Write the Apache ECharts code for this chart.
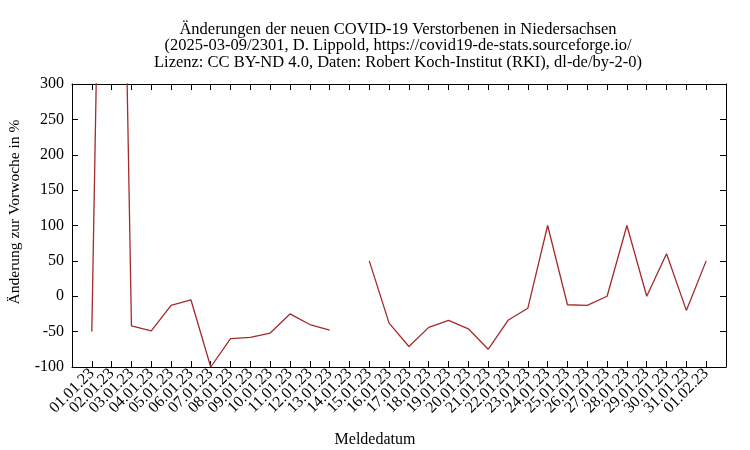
<!DOCTYPE html>
<html>
<head>
<meta charset="utf-8">
<script src="https://cdn.jsdelivr.net/npm/echarts@6/dist/echarts.min.js"></script>
<style>
html, body { margin: 0; padding: 0; background: #fff; }
#chart { width: 750px; height: 450px; }
</style>
</head>
<body>
<div id="chart"></div>
<script>
// Meldedatum (x) und Aenderung zur Vorwoche in % (y)
var dates = ['01.01.23','02.01.23','03.01.23','04.01.23','05.01.23','06.01.23','07.01.23','08.01.23',
    '09.01.23','10.01.23','11.01.23','12.01.23','13.01.23','14.01.23','15.01.23','16.01.23',
    '17.01.23','18.01.23','19.01.23','20.01.23','21.01.23','22.01.23','23.01.23','24.01.23',
    '25.01.23','26.01.23','27.01.23','28.01.23','29.01.23','30.01.23','31.01.23','01.02.23'];
var values = [-50, 1533, -42, -49, -13, -5, -100, -60,
    -58, -52, -25, -40, -48, null, 50, -38,
    -71, -44, -34, -46, -75, -34, -17, 100,
    -12, -13, 0, 100, 0, 60, -20, 50];
var yTicks = [-100, 300, 50]; // min, max, interval

var titleLines = [
    'Änderungen der neuen COVID-19 Verstorbenen in Niedersachsen',
    '(2025-03-09/2301, D. Lippold, https://covid19-de-stats.sourceforge.io/',
    'Lizenz: CC BY-ND 4.0, Daten: Robert Koch-Institut (RKI), dl-de/by-2-0)'
];

var font = 'Liberation Serif';
var chart = echarts.init(document.getElementById('chart'));

var seriesData = values.map(function (v, i) { return [i, v == null ? '-' : v]; });

function xAxis(pos, showLabel) {
    return {
        type: 'value', position: pos, min: -1, max: dates.length, interval: 1,
        axisLine: { show: true, onZero: false, lineStyle: { color: '#000', width: 1 } },
        axisTick: { show: true, inside: true, length: 6, lineStyle: { color: '#000' } },
        splitLine: { show: false },
        axisLabel: {
            show: showLabel, rotate: 45, margin: 4, fontFamily: font, fontSize: 16, color: '#000',
            formatter: function (v) { return dates[v] || ''; }
        }
    };
}

function yAxis(pos, showLabel) {
    return {
        type: 'value', position: pos, min: yTicks[0], max: yTicks[1], interval: yTicks[2],
        axisLine: { show: true, onZero: false, lineStyle: { color: '#000', width: 1 } },
        axisTick: { show: true, inside: true, length: 6, lineStyle: { color: '#000' } },
        splitLine: { show: false },
        axisLabel: { show: showLabel, margin: 8, fontFamily: font, fontSize: 16, color: '#000' }
    };
}

var option = {
    backgroundColor: '#fff',
    animation: false,
    title: {
        text: titleLines.join('\n'), left: 393, top: 16, textAlign: 'center',
        textStyle: { fontFamily: font, fontSize: 16.5, fontWeight: 'normal', color: '#000', lineHeight: 16.5 }
    },
    grid: { left: 72, right: 24, top: 84, bottom: 83 },
    xAxis: [xAxis('bottom', true), xAxis('top', false)],
    yAxis: [yAxis('left', true), yAxis('right', false)],
    graphic: [
        { type: 'text', left: 'center', top: 432, style: { text: 'Meldedatum', font: '16px "Liberation Serif"', fill: '#000' } },
        { type: 'text', x: 7, y: 212, rotation: Math.PI / 2, style: {
            text: 'Änderung zur Vorwoche in %', font: '15.5px "Liberation Serif"', fill: '#000',
            textAlign: 'center', textVerticalAlign: 'top' } }
    ],
    series: [{
        type: 'line', xAxisIndex: 0, yAxisIndex: 0, data: seriesData,
        showSymbol: false, connectNulls: false, clip: true,
        lineStyle: { color: '#a52a2a', width: 1.3 }
    }]
};
chart.setOption(option);
</script>
</body>
</html>
